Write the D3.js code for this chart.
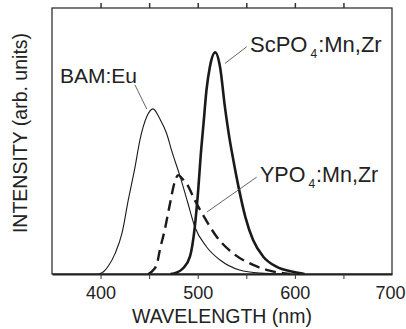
<!DOCTYPE html>
<html><head><meta charset="utf-8">
<script src="https://cdn.jsdelivr.net/npm/d3@7"></script>
<style>html,body{margin:0;padding:0;background:#fff;overflow:hidden}</style>
</head><body>
<svg id="c" width="406" height="329"></svg>
<script>
// ---- data ----
const xTicks = [400, 500, 600, 700];
const xMinorTicks = [400, 450, 500, 550, 600, 650];

const bamWl = [398, 403, 408, 415, 422, 428.5, 435.5, 440.5, 447.5, 454, 461, 468, 473, 482, 490, 497, 509, 523, 543, 564, 588];
const bamI  = [0, 0.01, 0.036, 0.093, 0.183, 0.333, 0.483, 0.604, 0.709, 0.745, 0.70, 0.634, 0.559, 0.438, 0.318, 0.213, 0.123, 0.063, 0.018, 0.004, 0];

const ypoWl = [449, 453, 458, 461, 466, 471.5, 476, 480, 484, 489, 497, 507.5, 519.5, 536.5, 557, 574, 595];
const ypoI  = [0, 0.012, 0.045, 0.108, 0.198, 0.318, 0.41, 0.446, 0.43, 0.405, 0.333, 0.251, 0.168, 0.093, 0.041, 0.015, 0];

const scWl = [472, 478, 485, 492, 497, 500.5, 503, 506, 509, 512.5, 518, 523, 528, 533, 536, 542, 549, 557, 567.5, 581, 598, 610];
const scI  = [0, 0.006, 0.026, 0.078, 0.213, 0.378, 0.53, 0.679, 0.829, 0.934, 1.0, 0.934, 0.754, 0.604, 0.53, 0.393, 0.258, 0.153, 0.078, 0.033, 0.010, 0];

// annotation anchors in data units (wavelength, intensity)
const bamLabel = {text: "BAM:Eu", w: 358.2, v: 0.862, lw: [435.4, 447.6], lv: [0.853, 0.744]};
const scLabel  = {main: "ScPO", sub: "4", rest: ":Mn,Zr", w: 553.8, v: 1.001, lw: [550.4, 528.1], lv: [1.025, 0.950]};
const ypoLabel = {main: "YPO", sub: "4", rest: ":Mn,Zr", w: 564.1, v: 0.415, lw: [560.7, 509.6], lv: [0.437, 0.28]};

// ---- layout ----
const W = 406;
const L = 52, R = 392, T = 8, B = 274;
const x = d3.scaleLinear().domain([350, 700]).range([L, R]);
const y = d3.scaleLinear().domain([0, 1.2]).range([B, T]);
const svg = d3.select("#c");
const font = "'Liberation Sans', Arial, sans-serif";
const ink = "#1a1a1a";

const line = d3.line().x(d => x(d[0])).y(d => y(d[1])).curve(d3.curveMonotoneX);
const zip = (a, b) => a.map((v, i) => [v, b[i]]);

// curves
svg.append("path").attr("d", line(zip(bamWl, bamI))).attr("fill", "none")
  .attr("stroke", ink).attr("stroke-width", 1.1);
svg.append("path").attr("d", line(zip(ypoWl, ypoI))).attr("fill", "none")
  .attr("stroke", ink).attr("stroke-width", 2.4).attr("stroke-dasharray", "11,6");
svg.append("path").attr("d", line(zip(scWl, scI))).attr("fill", "none")
  .attr("stroke", ink).attr("stroke-width", 2.6);

// frame
svg.append("rect").attr("x", L).attr("y", T).attr("width", R - L).attr("height", B - T)
  .attr("fill", "none").attr("stroke", "#222").attr("stroke-width", 1.2);

// bottom axis
const xAxis = d3.axisBottom(x).tickValues(xTicks).tickSize(0).tickPadding(12).tickFormat(d3.format("d"));
const gx = svg.append("g").attr("transform", `translate(0,${B})`).call(xAxis);
gx.select(".domain").attr("stroke", "#222").attr("stroke-width", 2);
gx.selectAll("text").attr("font-family", font).attr("font-size", 18).attr("fill", "#222");
// keep the last label inside the window
gx.selectAll(".tick").filter(d => d === 700).select("text")
  .attr("text-anchor", "end").attr("x", W - 1 - x(700));

// inward minor ticks top and bottom
svg.append("g").call(d3.axisTop(x).tickValues(xMinorTicks).tickSize(-5).tickFormat(""))
  .attr("transform", `translate(0,${B})`).call(g => g.select(".domain").remove())
  .selectAll("line").attr("stroke", "#333");
svg.append("g").call(d3.axisBottom(x).tickValues(xMinorTicks).tickSize(-5).tickFormat(""))
  .attr("transform", `translate(0,${T})`).call(g => g.select(".domain").remove())
  .selectAll("line").attr("stroke", "#333").attr("stroke-width", 1.5);

// axis titles
svg.append("text").attr("x", (L + R) / 2).attr("y", 323).attr("text-anchor", "middle")
  .attr("font-family", font).attr("font-size", 19.5).attr("fill", "#222").text("WAVELENGTH (nm)");
svg.append("text").attr("transform", `translate(27,${(T + B) / 2 - 8}) rotate(-90)`).attr("text-anchor", "middle")
  .attr("font-family", font).attr("font-size", 19.5).attr("fill", "#222").text("INTENSITY (arb. units)");

// annotations
function leader(a) {
  svg.append("line").attr("x1", x(a.lw[0])).attr("y1", y(a.lv[0])).attr("x2", x(a.lw[1])).attr("y2", y(a.lv[1]))
    .attr("stroke", "#555").attr("stroke-width", 0.9);
}
leader(bamLabel); leader(scLabel); leader(ypoLabel);
svg.append("text").attr("x", x(bamLabel.w)).attr("y", y(bamLabel.v)).attr("font-family", font)
  .attr("font-size", 21).attr("fill", "#222").text(bamLabel.text);
function subLabel(a, size) {
  const t = svg.append("text").attr("x", x(a.w)).attr("y", y(a.v)).attr("font-family", font)
    .attr("font-size", size).attr("fill", "#222");
  t.append("tspan").text(a.main);
  t.append("tspan").attr("dx", 3).attr("dy", 6).attr("font-size", 12).text(a.sub);
  t.append("tspan").attr("dx", 1).attr("dy", -6).text(a.rest);
}
subLabel(scLabel, 22);
subLabel(ypoLabel, 21.5);
</script>
</body></html>
